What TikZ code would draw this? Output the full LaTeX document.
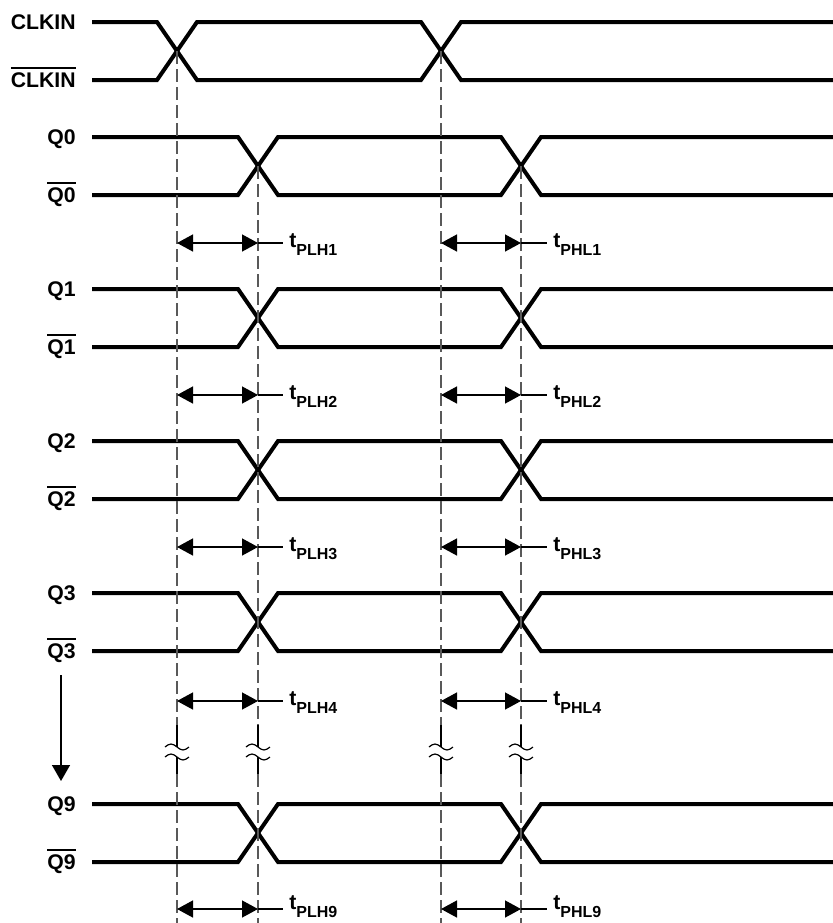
\documentclass[tikz,border=0pt]{standalone}
\usepackage{fontspec}
\setmainfont{Liberation Sans}
\usetikzlibrary{positioning, arrows.meta, calc}

% inverted signal name
\newcommand{\ovsig}[1]{\setbox0\hbox{#1}\rlap{\rule[\dimexpr\ht0+2pt\relax]{\wd0}{0.8pt}}\box0}
% delay label
\newcommand{\tdel}[1]{t\raisebox{-4pt}{\fontsize{8}{9}\selectfont #1}}

\begin{document}
\begin{tikzpicture}[x=0.5pt, y=-0.5pt,
  sig/.style={line width=2pt, line join=miter},
  guide/.style={line width=0.65pt, black!65, dash pattern=on 6.5pt off 2.5pt},
  meas/.style={line width=0.7pt, {Triangle[length=8pt,width=8.5pt]}-{Triangle[length=8pt,width=8.5pt]}},
  lbl/.style={anchor=base east, inner sep=0pt, font=\fontsize{10.6}{12}\selectfont\bfseries},
  dly/.style={anchor=base west, inner sep=0pt, font=\fontsize{10.6}{12}\selectfont\bfseries}]
\useasboundingbox (0,0) rectangle (833,923);

% signal pairs
\foreach \nm/\tx/\yt/\xa/\xb in {clk/CLKIN/22/177/441, q0/Q0/137/258/521, q1/Q1/289/258/521,
    q2/Q2/441/258/521, q3/Q3/593/258/521, q9/Q9/804/258/521}
{
  \pgfmathsetmacro\yb{\yt+58}
  \node[lbl] (\nm) at (76,\yt+7.5) {\tx};
  \node[lbl] (\nm b) at (76,\yb+7.5) {\ovsig{\tx}};
  \draw[sig] (92,\yt) -- (\xa-20,\yt) -- (\xa+20,\yb) -- (\xb-20,\yb) -- (\xb+20,\yt) -- (833,\yt);
  \draw[sig] (92,\yb) -- (\xa-20,\yb) -- (\xa+20,\yt) -- (\xb-20,\yt) -- (\xb+20,\yb) -- (833,\yb);
}

% guide lines with break marks
\foreach \x/\y in {177/51, 441/51, 258/166, 521/166}
{
  \draw[guide] (\x,\y) -- (\x,725);
  \draw[guide, solid, black] (\x,725) -- (\x,747) (\x,757) -- (\x,774);
  \draw[guide] (\x,774) -- (\x,923);
  \foreach \ty in {747, 757}
    \draw[line width=0.6pt] (\x-12,\ty) sin (\x-6,\ty-3) cos (\x,\ty) sin (\x+6,\ty+3) cos (\x+12,\ty);
}

% delay measurements
\foreach \y/\k/\dy in {243/1/4, 395/2/4, 547/3/4, 701/4/4, 909/9/0}
{
  \coordinate (la\k) at (177,\y);
  \coordinate (lb\k) at (258,\y);
  \coordinate (lc\k) at (283,\y);
  \coordinate (ha\k) at (441,\y);
  \coordinate (hb\k) at (521,\y);
  \coordinate (hc\k) at (547,\y);
  \draw[meas] (la\k) -- (lb\k);
  \draw[line width=0.7pt] (lb\k) -- (lc\k);
  \draw[meas] (ha\k) -- (hb\k);
  \draw[line width=0.7pt] (hb\k) -- (hc\k);
  \node[dly] (tl\k) at (289,\y+\dy) {\tdel{PLH\k}};
  \node[dly] (th\k) at (553,\y+\dy) {\tdel{PHL\k}};
}

% skipped outputs
\coordinate (dn1) at (61,675);
\coordinate (dn2) at (61,781);
\draw[line width=0.7pt, -{Triangle[length=8pt,width=9pt]}] (dn1) -- (dn2);
\end{tikzpicture}
\end{document}
